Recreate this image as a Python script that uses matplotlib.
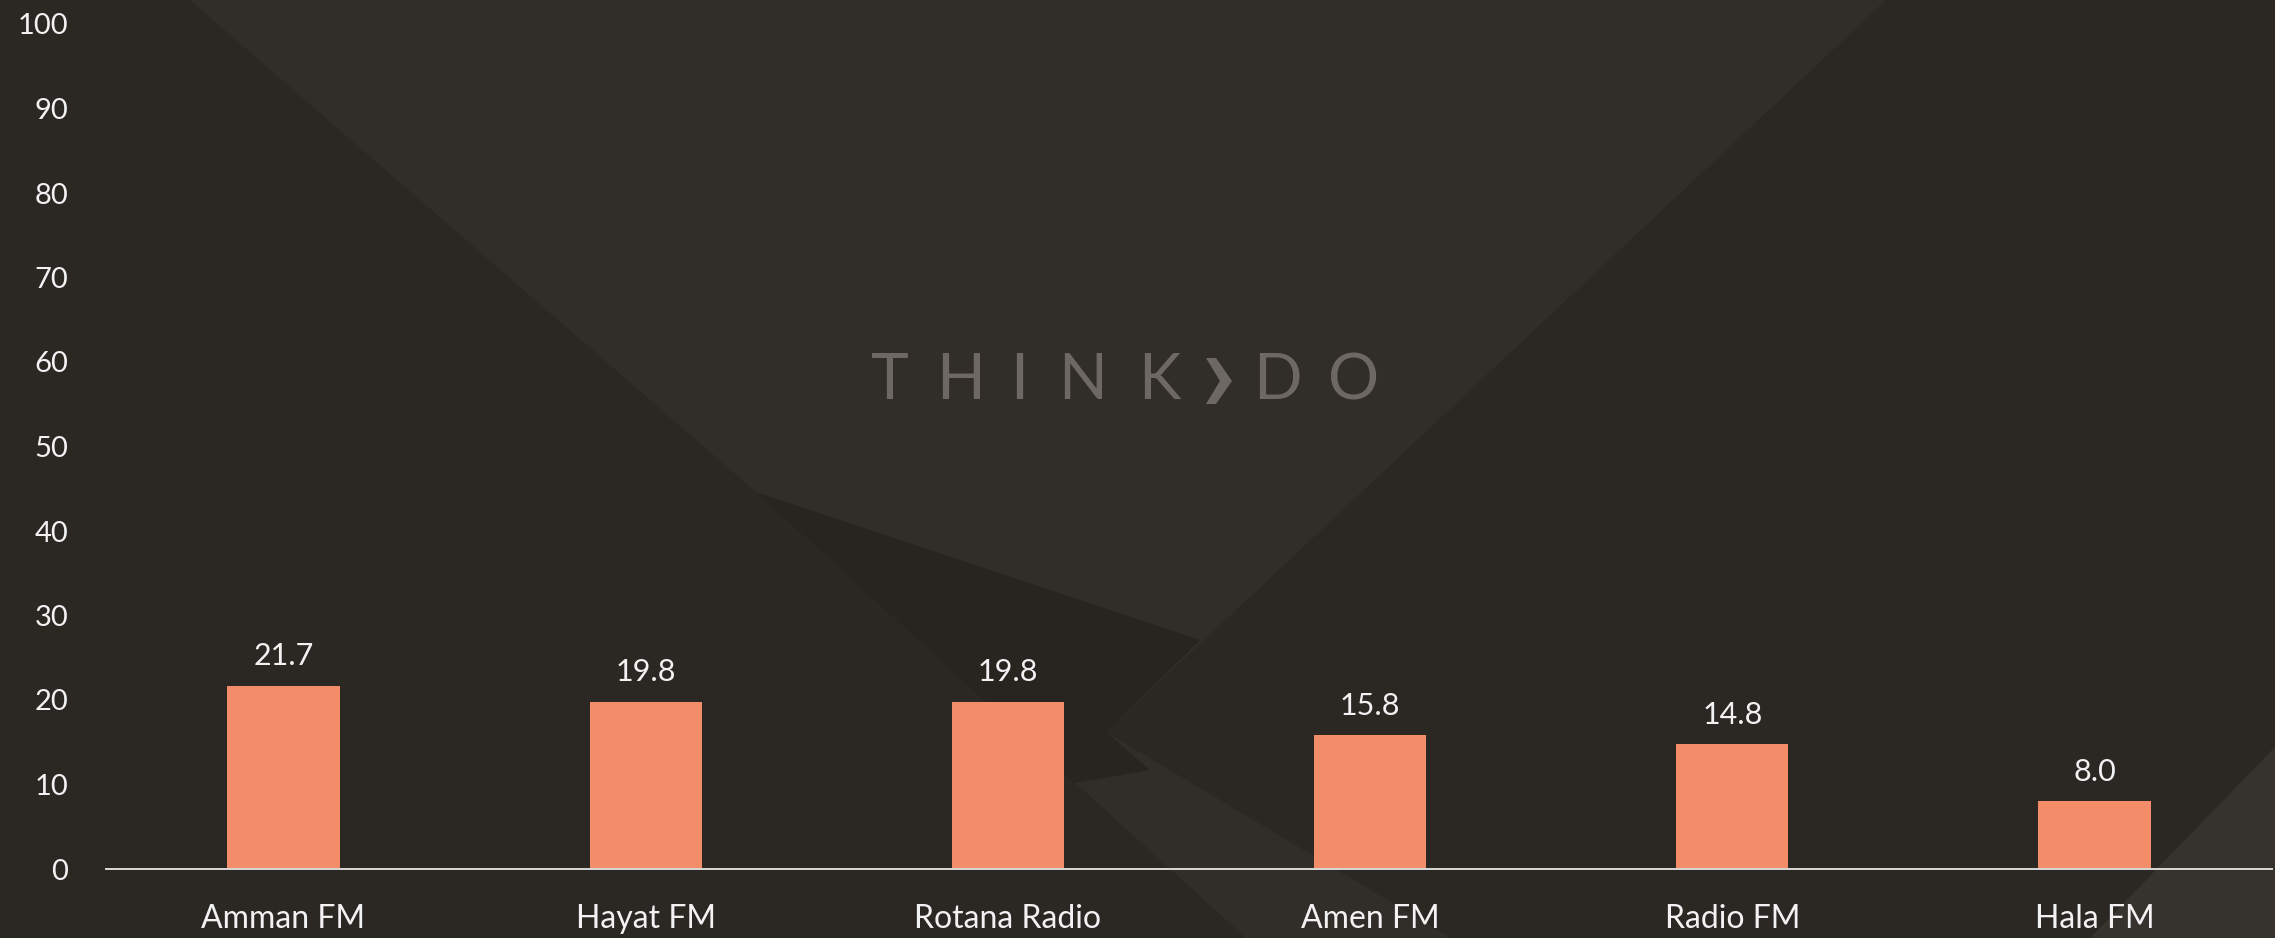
import matplotlib.pyplot as plt
from matplotlib.patches import Polygon

W, H = 2275, 938

stations = ['Amman FM', 'Hayat FM', 'Rotana Radio', 'Amen FM', 'Radio FM', 'Hala FM']
share = [21.7, 19.8, 19.8, 15.8, 14.8, 8.0]
yticks = [0, 10, 20, 30, 40, 50, 60, 70, 80, 90, 100]

BG = '#2b2824'
BAR = '#f28c69'
TXT = '#f2f2f2'
LOGO = '#6d6863'

plt.rcParams['font.family'] = ['Lato', 'DejaVu Sans']


def px(points):
    # pixel coords (origin top-left) -> figure fraction
    return [(x / W, 1 - y / H) for x, y in points]


fig = plt.figure(figsize=(W / 100, H / 100), dpi=100, facecolor=BG)

# background shapes (subtle)
shapes = [
    ([(190, 0), (1886, 0), (1106, 732), (1451, 938), (1246, 938), (756, 492)], '#312e29'),
    ([(756, 492), (1200, 640), (1106, 732), (1150, 770), (1075, 783)], '#282521'),
    ([(2275, 747), (2090, 938), (2275, 938)], '#36332e'),
]
for pts, c in shapes:
    fig.add_artist(Polygon(px(pts), closed=True, transform=fig.transFigure,
                           facecolor=c, edgecolor='none', zorder=-2))

# logo
for ch, x in zip('THINKDO', [890, 961, 1019, 1083, 1159, 1277, 1354]):
    fig.text(x / W, 1 - 381 / H, ch, color=LOGO, fontsize=46,
             ha='center', va='center', zorder=-1)
chev = [(1206, 358), (1216, 358), (1232, 381), (1216, 404), (1206, 404), (1220, 381)]
fig.add_artist(Polygon(px(chev), closed=True, transform=fig.transFigure,
                       facecolor=LOGO, edgecolor='none', zorder=-1))

ax = fig.add_axes([106 / W, 1 - 869 / H, (2272 - 106) / W, (869 - 24) / H])
ax.patch.set_alpha(0)

bars = ax.bar(range(len(stations)), share, width=0.31, color=BAR)
ax.bar_label(bars, labels=[f'{v:.1f}' for v in share], padding=11,
             color=TXT, fontsize=22)

ax.set_xlim(-0.49, len(stations) - 0.51)
ax.set_ylim(0, 100)
ax.set_yticks(yticks)
ax.set_xticks(range(len(stations)))
ax.set_xticklabels(stations)
ax.tick_params(axis='y', length=0, pad=27, labelsize=21, labelcolor=TXT)
ax.tick_params(axis='x', length=0, pad=25, labelsize=23, labelcolor=TXT)

for s in ['top', 'right', 'left']:
    ax.spines[s].set_visible(False)
ax.spines['bottom'].set_color('#d9d9d9')
ax.spines['bottom'].set_linewidth(1.4)

fig.savefig('out.png', dpi=100, facecolor=BG)
